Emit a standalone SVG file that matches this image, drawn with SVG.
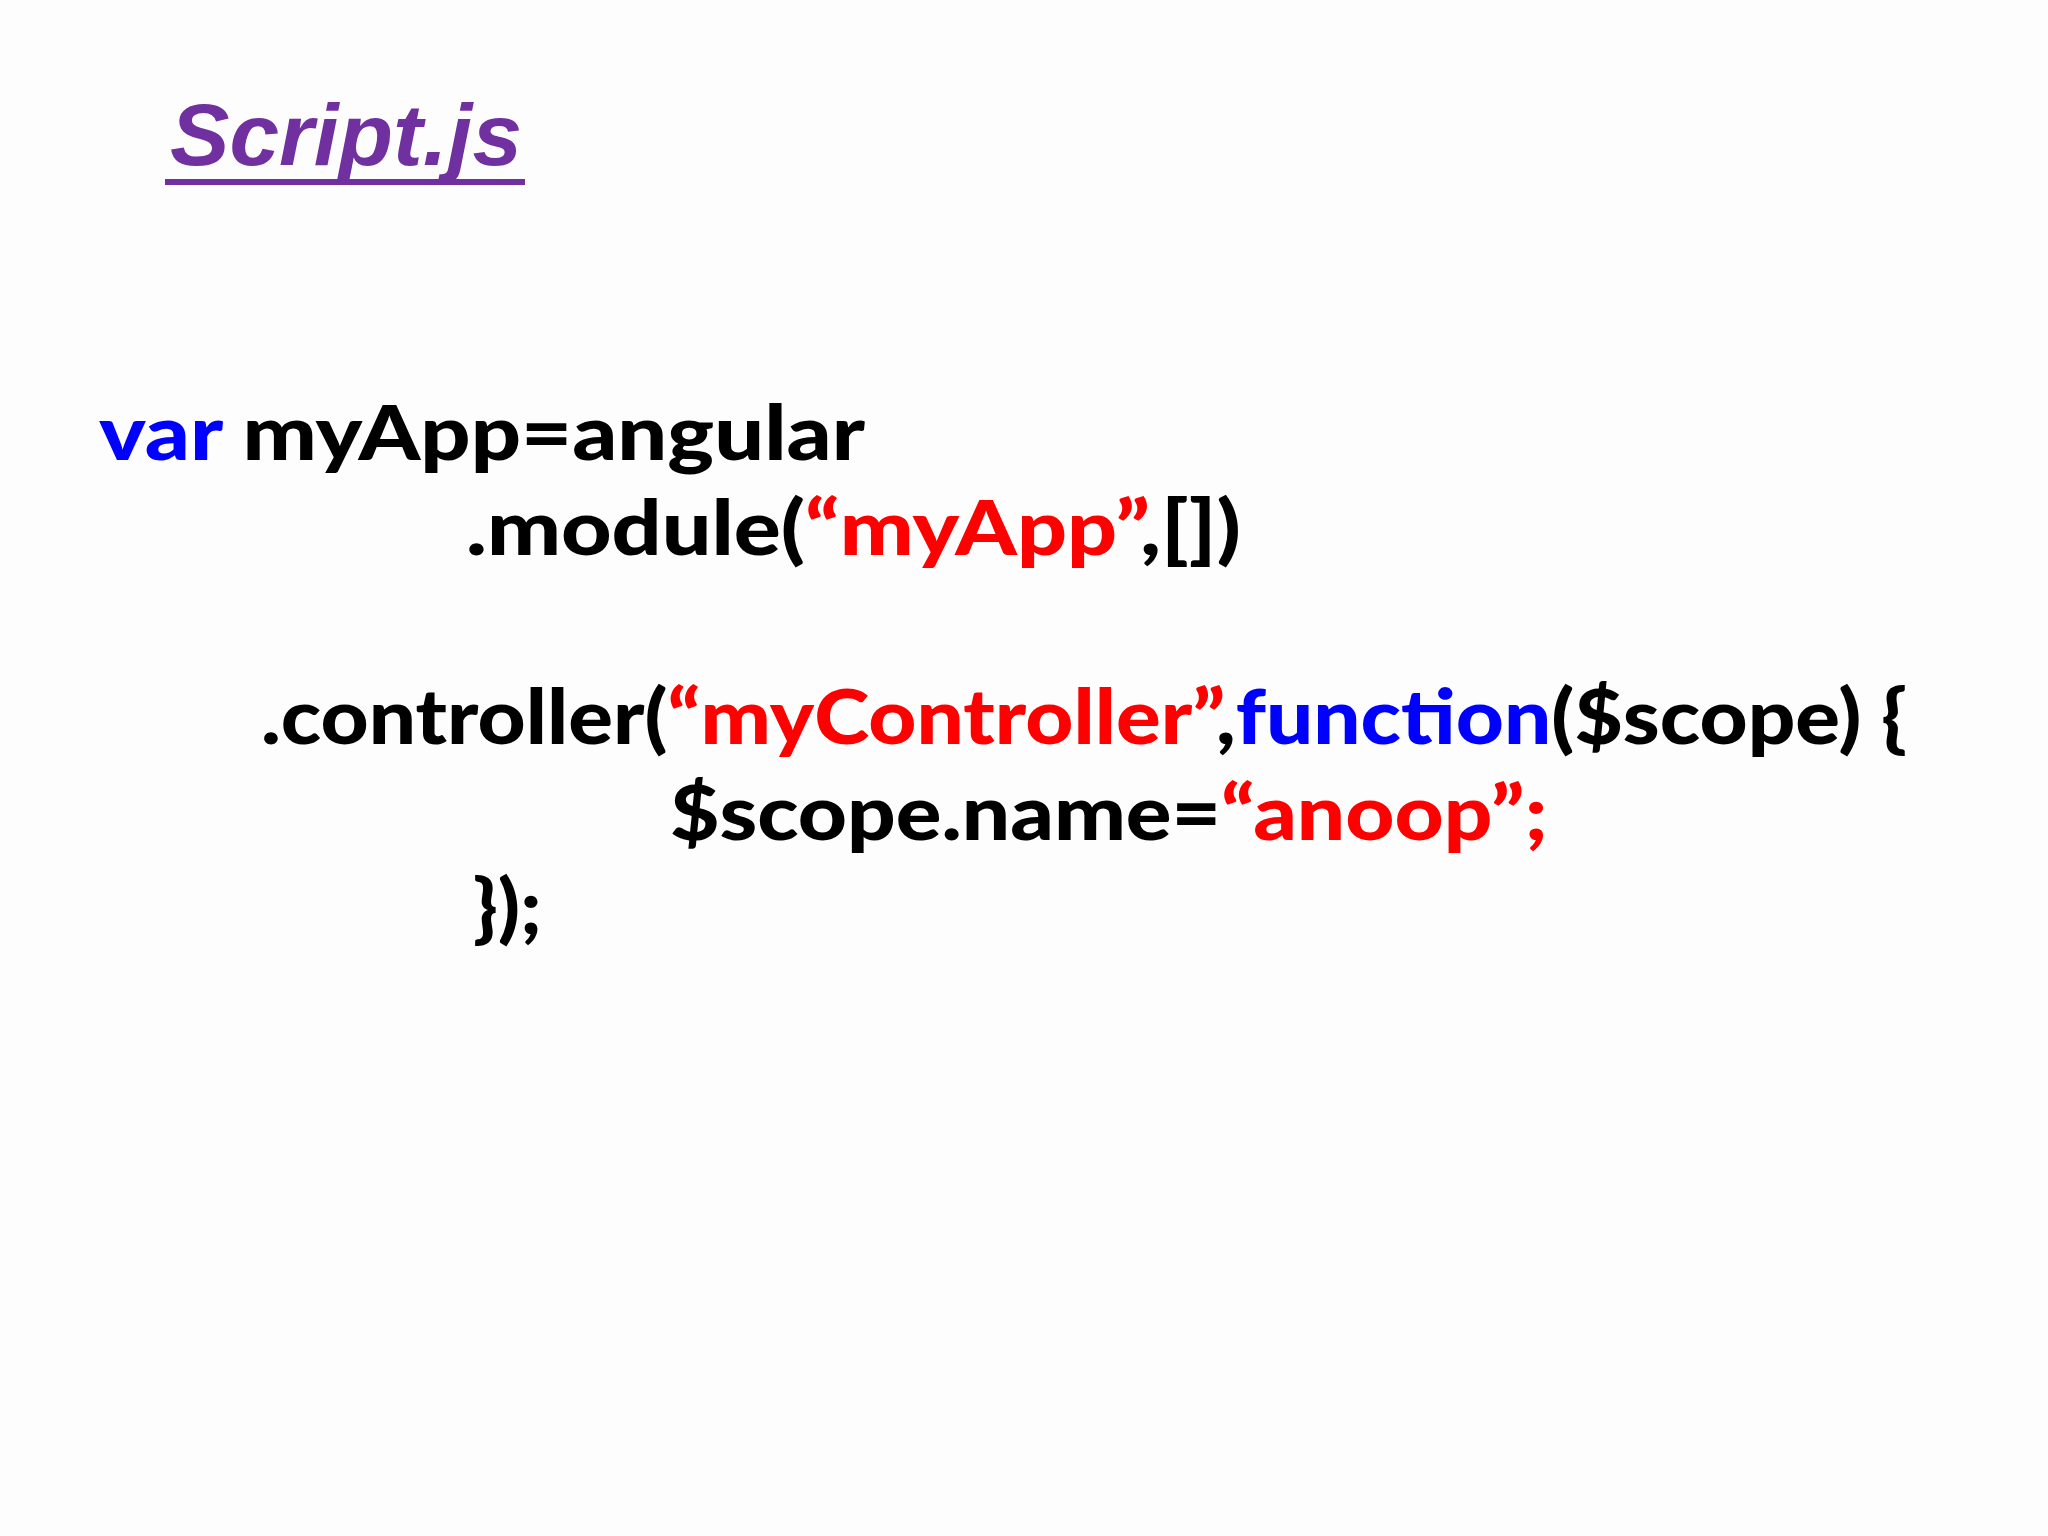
<svg xmlns="http://www.w3.org/2000/svg" width="2048" height="1536" viewBox="0 0 2048 1536">
<style>
.c{font-family:"Lato","Liberation Sans",sans-serif;font-weight:900;font-size:76px;fill:#000}
.b{fill:#0000ff}.r{fill:#ff0000}
</style>
<rect width="2048" height="1536" fill="#fdfdfd"/>
<g id="title">
<text x="170" y="165" font-family="Liberation Sans,Arial,sans-serif" font-weight="bold" font-style="italic" font-size="88" fill="#7030A0" textLength="352" lengthAdjust="spacingAndGlyphs">Script.js</text>
<rect x="165" y="179" width="360" height="6" fill="#7030A0"/>
</g>
<g id="code">
<text class="c" x="99" y="460" textLength="766" lengthAdjust="spacingAndGlyphs"><tspan class="b">var</tspan> myApp=angular</text>
<text class="c" x="466" y="555" textLength="775" lengthAdjust="spacingAndGlyphs">.module(<tspan class="r">“myApp”</tspan>,[])</text>
<text class="c" x="261" y="744" textLength="1646" lengthAdjust="spacingAndGlyphs">.controller(<tspan class="r">“myController”</tspan>,<tspan class="b">function</tspan>($scope) {</text>
<text class="c" x="670" y="840" textLength="878" lengthAdjust="spacingAndGlyphs">$scope.name=<tspan class="r">“anoop”;</tspan></text>
<text class="c" x="473" y="934" textLength="69" lengthAdjust="spacingAndGlyphs">});</text>
</g>
</svg>
